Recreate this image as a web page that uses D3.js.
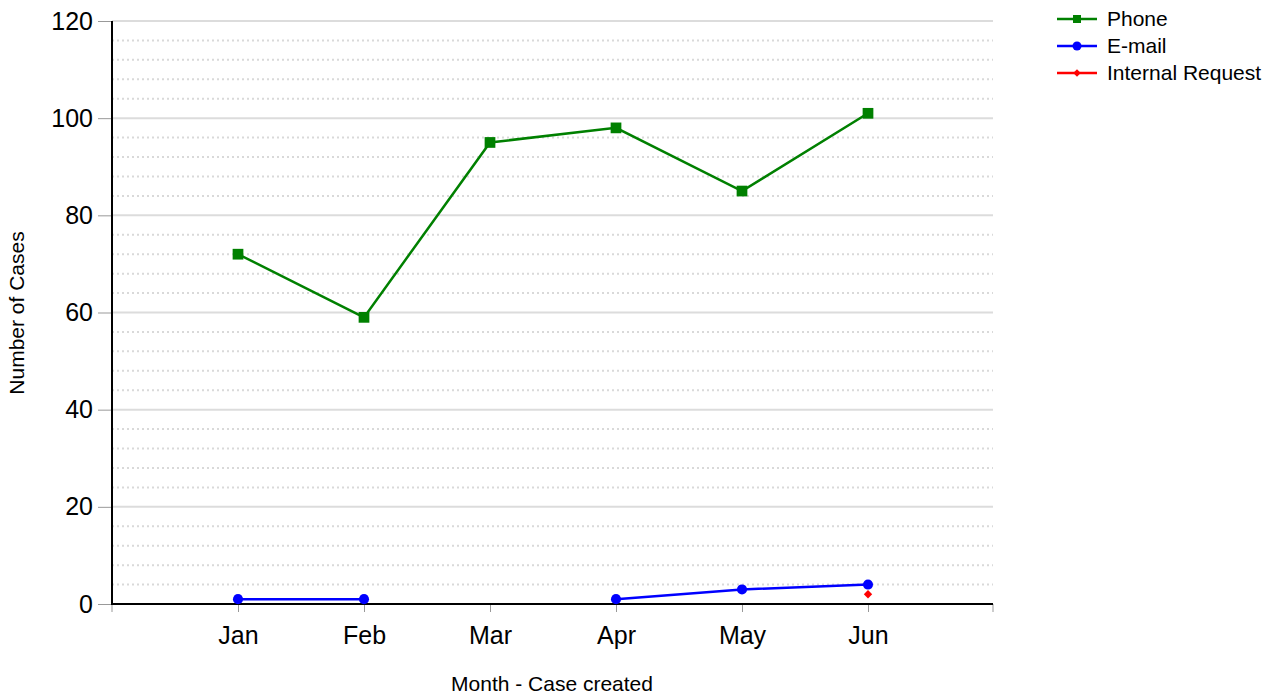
<!DOCTYPE html>
<html>
<head>
<meta charset="utf-8">
<script src="https://cdn.jsdelivr.net/npm/d3@7"></script>
<style>
  body { margin: 0; background: #fff; }
  svg { font-family: "Liberation Sans", Arial, sans-serif; }
</style>
</head>
<body>
<svg width="1275" height="695"></svg>
<script>
const months = ['Jan', 'Feb', 'Mar', 'Apr', 'May', 'Jun'];
const phone = [72, 59, 95, 98, 85, 101];
const email = [1, 1, null, 1, 3, 4];
const internalRequest = [null, null, null, null, null, 2];
const yTicks = [0, 20, 40, 60, 80, 100, 120];

const seriesList = [
    {name: 'Phone', values: phone, color: '#008000', symbol: 'square'},
    {name: 'E-mail', values: email, color: '#0000ff', symbol: 'circle'},
    {name: 'Internal Request', values: internalRequest, color: '#ff0000', symbol: 'diamond'}
];

const plotLeft = 112, plotRight = 994, plotTop = 21, plotBottom = 604;
let svg = d3.select('svg');

let xScale = d3.scalePoint()
    .domain(months)
    .range([plotLeft, plotRight])
    .padding(1);

let yScale = d3.scaleLinear()
    .domain([0, 120])
    .range([plotBottom, plotTop]);

// minor dotted gridlines every 4
let minor = d3.range(4, 120, 4).filter(v => v % 20 !== 0);
svg.append('g')
    .selectAll('line')
    .data(minor)
    .enter()
    .append('line')
        .attr('x1', plotLeft).attr('x2', plotRight - 1)
        .attr('y1', d => yScale(d)).attr('y2', d => yScale(d))
        .attr('stroke', '#d9d9d9')
        .attr('stroke-width', 2)
        .attr('stroke-dasharray', '2,3');

// major gridlines
svg.append('g')
    .selectAll('line')
    .data(yTicks.filter(v => v > 0))
    .enter()
    .append('line')
        .attr('x1', plotLeft).attr('x2', plotRight - 1)
        .attr('y1', d => yScale(d)).attr('y2', d => yScale(d))
        .attr('stroke', '#dcdcdc')
        .attr('stroke-width', 2);

// y axis
let yAxis = d3.axisLeft(yScale)
    .tickValues(yTicks)
    .tickSize(14)
    .tickSizeOuter(0)
    .tickPadding(5);
let gy = svg.append('g')
    .attr('transform', `translate(${plotLeft},0)`)
    .call(yAxis);
gy.select('.domain').remove();
gy.selectAll('.tick line').attr('stroke', '#999');
gy.selectAll('.tick text')
    .attr('font-size', 25)
    .attr('font-family', '"Liberation Sans", Arial, sans-serif')
    .attr('fill', '#000');

// x axis
let xAxis = d3.axisBottom(xScale)
    .tickSize(8)
    .tickSizeOuter(0)
    .tickPadding(14);
let gx = svg.append('g')
    .attr('transform', `translate(0,${plotBottom})`)
    .call(xAxis);
gx.select('.domain').remove();
gx.selectAll('.tick line').attr('stroke', '#999');
gx.selectAll('.tick text')
    .attr('font-size', 25)
    .attr('font-family', '"Liberation Sans", Arial, sans-serif')
    .attr('fill', '#000');
// end ticks
gx.selectAll('.endtick')
    .data([plotLeft, plotRight - 1])
    .enter()
    .append('line')
        .attr('x1', d => d).attr('x2', d => d)
        .attr('y1', 0).attr('y2', 8)
        .attr('stroke', '#999');

// axis lines
svg.append('line')
    .attr('x1', plotLeft).attr('x2', plotLeft)
    .attr('y1', plotTop).attr('y2', plotBottom + 1)
    .attr('stroke', '#000').attr('stroke-width', 2);
svg.append('line')
    .attr('x1', plotLeft - 1).attr('x2', plotRight - 1)
    .attr('y1', plotBottom).attr('y2', plotBottom)
    .attr('stroke', '#000').attr('stroke-width', 2);

// axis titles
svg.append('text')
    .text('Number of Cases')
    .attr('transform', `translate(24,313) rotate(-90)`)
    .attr('text-anchor', 'middle')
    .attr('font-size', 21);
svg.append('text')
    .text('Month - Case created')
    .attr('x', 552)
    .attr('y', 691)
    .attr('text-anchor', 'middle')
    .attr('font-size', 21);

const symbolType = {square: d3.symbolSquare, circle: d3.symbolCircle, diamond: d3.symbolDiamond2};
const symbolSize = {square: 115, circle: 80, diamond: 45};

let line = d3.line()
    .defined(d => d.v !== null)
    .x(d => xScale(d.m))
    .y(d => yScale(d.v));

seriesList.forEach(s => {
    let pts = months.map((m, i) => ({m: m, v: s.values[i]}));
    svg.append('path')
        .datum(pts)
        .attr('d', line)
        .attr('fill', 'none')
        .attr('stroke', s.color)
        .attr('stroke-width', 2.5);
    svg.append('g')
        .selectAll('path')
        .data(pts.filter(d => d.v !== null))
        .enter()
        .append('path')
            .attr('d', d3.symbol().type(symbolType[s.symbol]).size(symbolSize[s.symbol]))
            .attr('transform', d => `translate(${xScale(d.m)},${yScale(d.v)})`)
            .attr('fill', s.color);
});

// legend
let legend = svg.append('g')
    .selectAll('g')
    .data(seriesList)
    .enter()
    .append('g')
        .attr('transform', (d, i) => `translate(1057,${19 + i * 27})`);
legend.append('line')
    .attr('x1', 0).attr('x2', 40)
    .attr('stroke', d => d.color)
    .attr('stroke-width', 2.5);
legend.append('path')
    .attr('d', d => d3.symbol().type(symbolType[d.symbol]).size(d.symbol === 'diamond' ? 35 : 64)())
    .attr('transform', 'translate(20,0)')
    .attr('fill', d => d.color);
legend.append('text')
    .text(d => d.name)
    .attr('x', 50)
    .attr('dy', '0.35em')
    .attr('font-size', 21);
</script>
</body>
</html>
